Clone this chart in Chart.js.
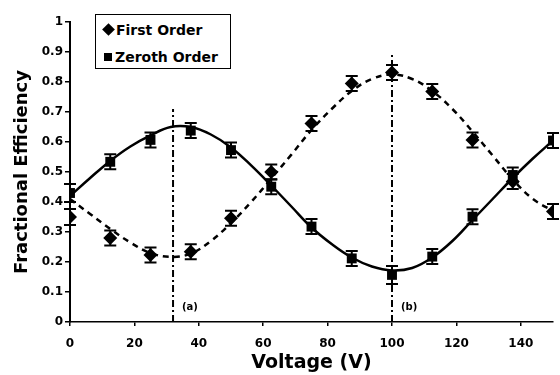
<!DOCTYPE html>
<html>
<head>
<meta charset="utf-8">
<script src="https://cdn.jsdelivr.net/npm/chart.js@4.4.1/dist/chart.umd.min.js"></script>
<style>
  html, body { margin: 0; padding: 0; background: #fff; }
  #wrap { position: relative; width: 560px; height: 375px; }
  #legend {
    position: absolute; left: 95px; top: 14px; width: 134px; height: 53px;
    border: 1.5px solid #000; background: #fff;
    font: bold 14px "DejaVu Sans", Verdana, sans-serif; color: #000;
  }
  #legend .row { position: absolute; left: 6px; height: 16px; line-height: 16px; white-space: nowrap; }
  #legend .dia { display: inline-block; width: 9px; height: 9px; background: #000; transform: rotate(45deg); margin: 0 3px 1px 2px; }
  #legend .sq { display: inline-block; width: 8px; height: 8px; background: #000; margin: 0 3px 1px 2px; }
</style>
</head>
<body>
<div id="wrap">
  <canvas id="chart" width="560" height="375"></canvas>
  <div id="legend">
    <div class="row" style="top:7px"><span class="dia"></span>First Order</div>
    <div class="row" style="top:34px"><span class="sq"></span>Zeroth Order</div>
  </div>
</div>
<script>
// ==================== 資料 ====================
const voltage = [0, 12.5, 25, 37.5, 50, 62.5, 75, 87.5, 100, 112.5, 125, 137.5, 150];
const firstOrder = [0.35, 0.28, 0.223, 0.234, 0.346, 0.50, 0.662, 0.795, 0.832, 0.768, 0.607, 0.468, 0.368];
const zerothOrder = [0.43, 0.534, 0.607, 0.638, 0.573, 0.451, 0.318, 0.212, 0.157, 0.218, 0.351, 0.49, 0.605];
const errFirst = [0.027, 0.025, 0.025, 0.025, 0.025, 0.025, 0.025, 0.025, 0.025, 0.025, 0.025, 0.025, 0.025];
const errZeroth = [0.03, 0.025, 0.025, 0.025, 0.025, 0.025, 0.025, 0.025, 0.03, 0.025, 0.025, 0.025, 0.025];

// 擬合曲線
const fitVoltage = [0, 6.25, 12.5, 18.75, 25, 31.25, 37.5, 43.75, 50, 56.25, 62.5, 68.75, 75,
  81.25, 87.5, 93.75, 100, 106.25, 112.5, 118.75, 125, 131.25, 137.5, 143.75, 150];
const fitZeroth = [0.42, 0.48, 0.537, 0.585, 0.622, 0.65, 0.65, 0.625, 0.582, 0.522, 0.455, 0.385, 0.315,
  0.26, 0.215, 0.185, 0.172, 0.18, 0.215, 0.27, 0.34, 0.41, 0.48, 0.545, 0.605];
const fitFirst = [0.41, 0.36, 0.31, 0.265, 0.23, 0.217, 0.228, 0.27, 0.33, 0.4, 0.478, 0.558, 0.64,
  0.71, 0.77, 0.81, 0.825, 0.81, 0.77, 0.71, 0.635, 0.555, 0.475, 0.41, 0.37];

// 標記線 (a)(b)
const markerV = [32, 100];
const markerTop = [0.71, 0.89];
const markerLabels = ['(a)', '(b)'];

const xTickValues = [0, 20, 40, 60, 80, 100, 120, 140];
const yTickValues = [0, 0.1, 0.2, 0.3, 0.4, 0.5, 0.6, 0.7, 0.8, 0.9, 1];

const toXY = (xs, ys) => xs.map((v, i) => ({ x: v, y: ys[i] }));

// ==================== 誤差棒與標記文字 ====================
const errorBarPlugin = {
  id: 'errorBars',
  afterDatasetsDraw(chart) {
    const { ctx, scales: { x, y } } = chart;
    ctx.save();
    ctx.strokeStyle = '#000';
    ctx.lineWidth = 2;
    [[firstOrder, errFirst], [zerothOrder, errZeroth]].forEach(([vals, errs]) => {
      vals.forEach((v, i) => {
        const px = x.getPixelForValue(voltage[i]);
        const top = y.getPixelForValue(v + errs[i]);
        const bot = y.getPixelForValue(v - errs[i]);
        ctx.beginPath();
        ctx.moveTo(px, top); ctx.lineTo(px, bot);
        ctx.moveTo(px - 6, top); ctx.lineTo(px + 6, top);
        ctx.moveTo(px - 6, bot); ctx.lineTo(px + 6, bot);
        ctx.stroke();
      });
    });
    ctx.fillStyle = '#000';
    ctx.font = 'bold 10px "DejaVu Sans", Verdana, sans-serif';
    ctx.textBaseline = 'middle';
    markerLabels.forEach((t, i) => {
      ctx.fillText(t, x.getPixelForValue(markerV[i]) + 9, y.getPixelForValue(0.05));
    });
    ctx.restore();
  }
};

Chart.defaults.font.family = '"DejaVu Sans", Verdana, sans-serif';
Chart.defaults.color = '#000';

new Chart(document.getElementById('chart'), {
  type: 'scatter',
  data: {
    datasets: [
      {
        label: 'First Order',
        data: toXY(voltage, firstOrder),
        pointStyle: 'rectRot', pointRadius: 7,
        backgroundColor: '#000', borderColor: '#000', borderWidth: 0,
        order: 0
      },
      {
        label: 'Zeroth Order',
        data: toXY(voltage, zerothOrder),
        pointStyle: 'rect', pointRadius: 7,
        backgroundColor: '#000', borderColor: '#000', borderWidth: 0,
        order: 0
      },
      {
        type: 'line', label: 'fit zeroth',
        data: toXY(fitVoltage, fitZeroth),
        borderColor: '#000', borderWidth: 2.5, pointRadius: 0, tension: 0.4,
        order: 1
      },
      {
        type: 'line', label: 'fit first',
        data: toXY(fitVoltage, fitFirst),
        borderColor: '#000', borderWidth: 2.5, borderDash: [6, 5], pointRadius: 0, tension: 0.4,
        order: 1
      },
      ...markerV.map((v, i) => ({
        type: 'line', label: markerLabels[i],
        data: [{ x: v, y: 0 }, { x: v, y: markerTop[i] }],
        borderColor: '#000', borderWidth: 2, borderDash: [7, 3, 2, 3], pointRadius: 0,
        order: 2
      }))
    ]
  },
  options: {
    responsive: false,
    animation: false,
    layout: { padding: { top: 22, right: 3, left: 0, bottom: 0 } },
    plugins: { legend: { display: false }, tooltip: { enabled: false } },
    scales: {
      x: {
        type: 'linear', min: 0, max: 150,
        afterBuildTicks: s => { s.ticks = xTickValues.map(v => ({ value: v })); },
        afterFit: s => { s.height = 53; },
        border: { color: '#000', width: 1.5 },
        grid: { drawOnChartArea: false, color: '#000', tickLength: 4, lineWidth: 1.5 },
        ticks: { font: { size: 12, weight: 'bold' }, padding: 11, maxRotation: 0 },
        title: { display: true, text: 'Voltage (V)', font: { size: 19, weight: 'bold' }, padding: { top: 0, bottom: 1 } }
      },
      y: {
        min: 0, max: 1,
        afterBuildTicks: s => { s.ticks = yTickValues.map(v => ({ value: v })); },
        afterFit: s => { s.width = 70; },
        border: { color: '#000', width: 2 },
        grid: { drawOnChartArea: false, color: '#000', tickLength: 5, lineWidth: 1.5 },
        ticks: {
          font: { size: 12, weight: 'bold' }, padding: 2,
          callback: v => (v === 0 || v === 1) ? String(v) : v.toFixed(1)
        },
        title: { display: true, text: 'Fractional Efficiency', font: { size: 18, weight: 'bold' }, padding: { top: 12, bottom: 0 } }
      }
    }
  },
  plugins: [errorBarPlugin]
});
</script>
</body>
</html>
